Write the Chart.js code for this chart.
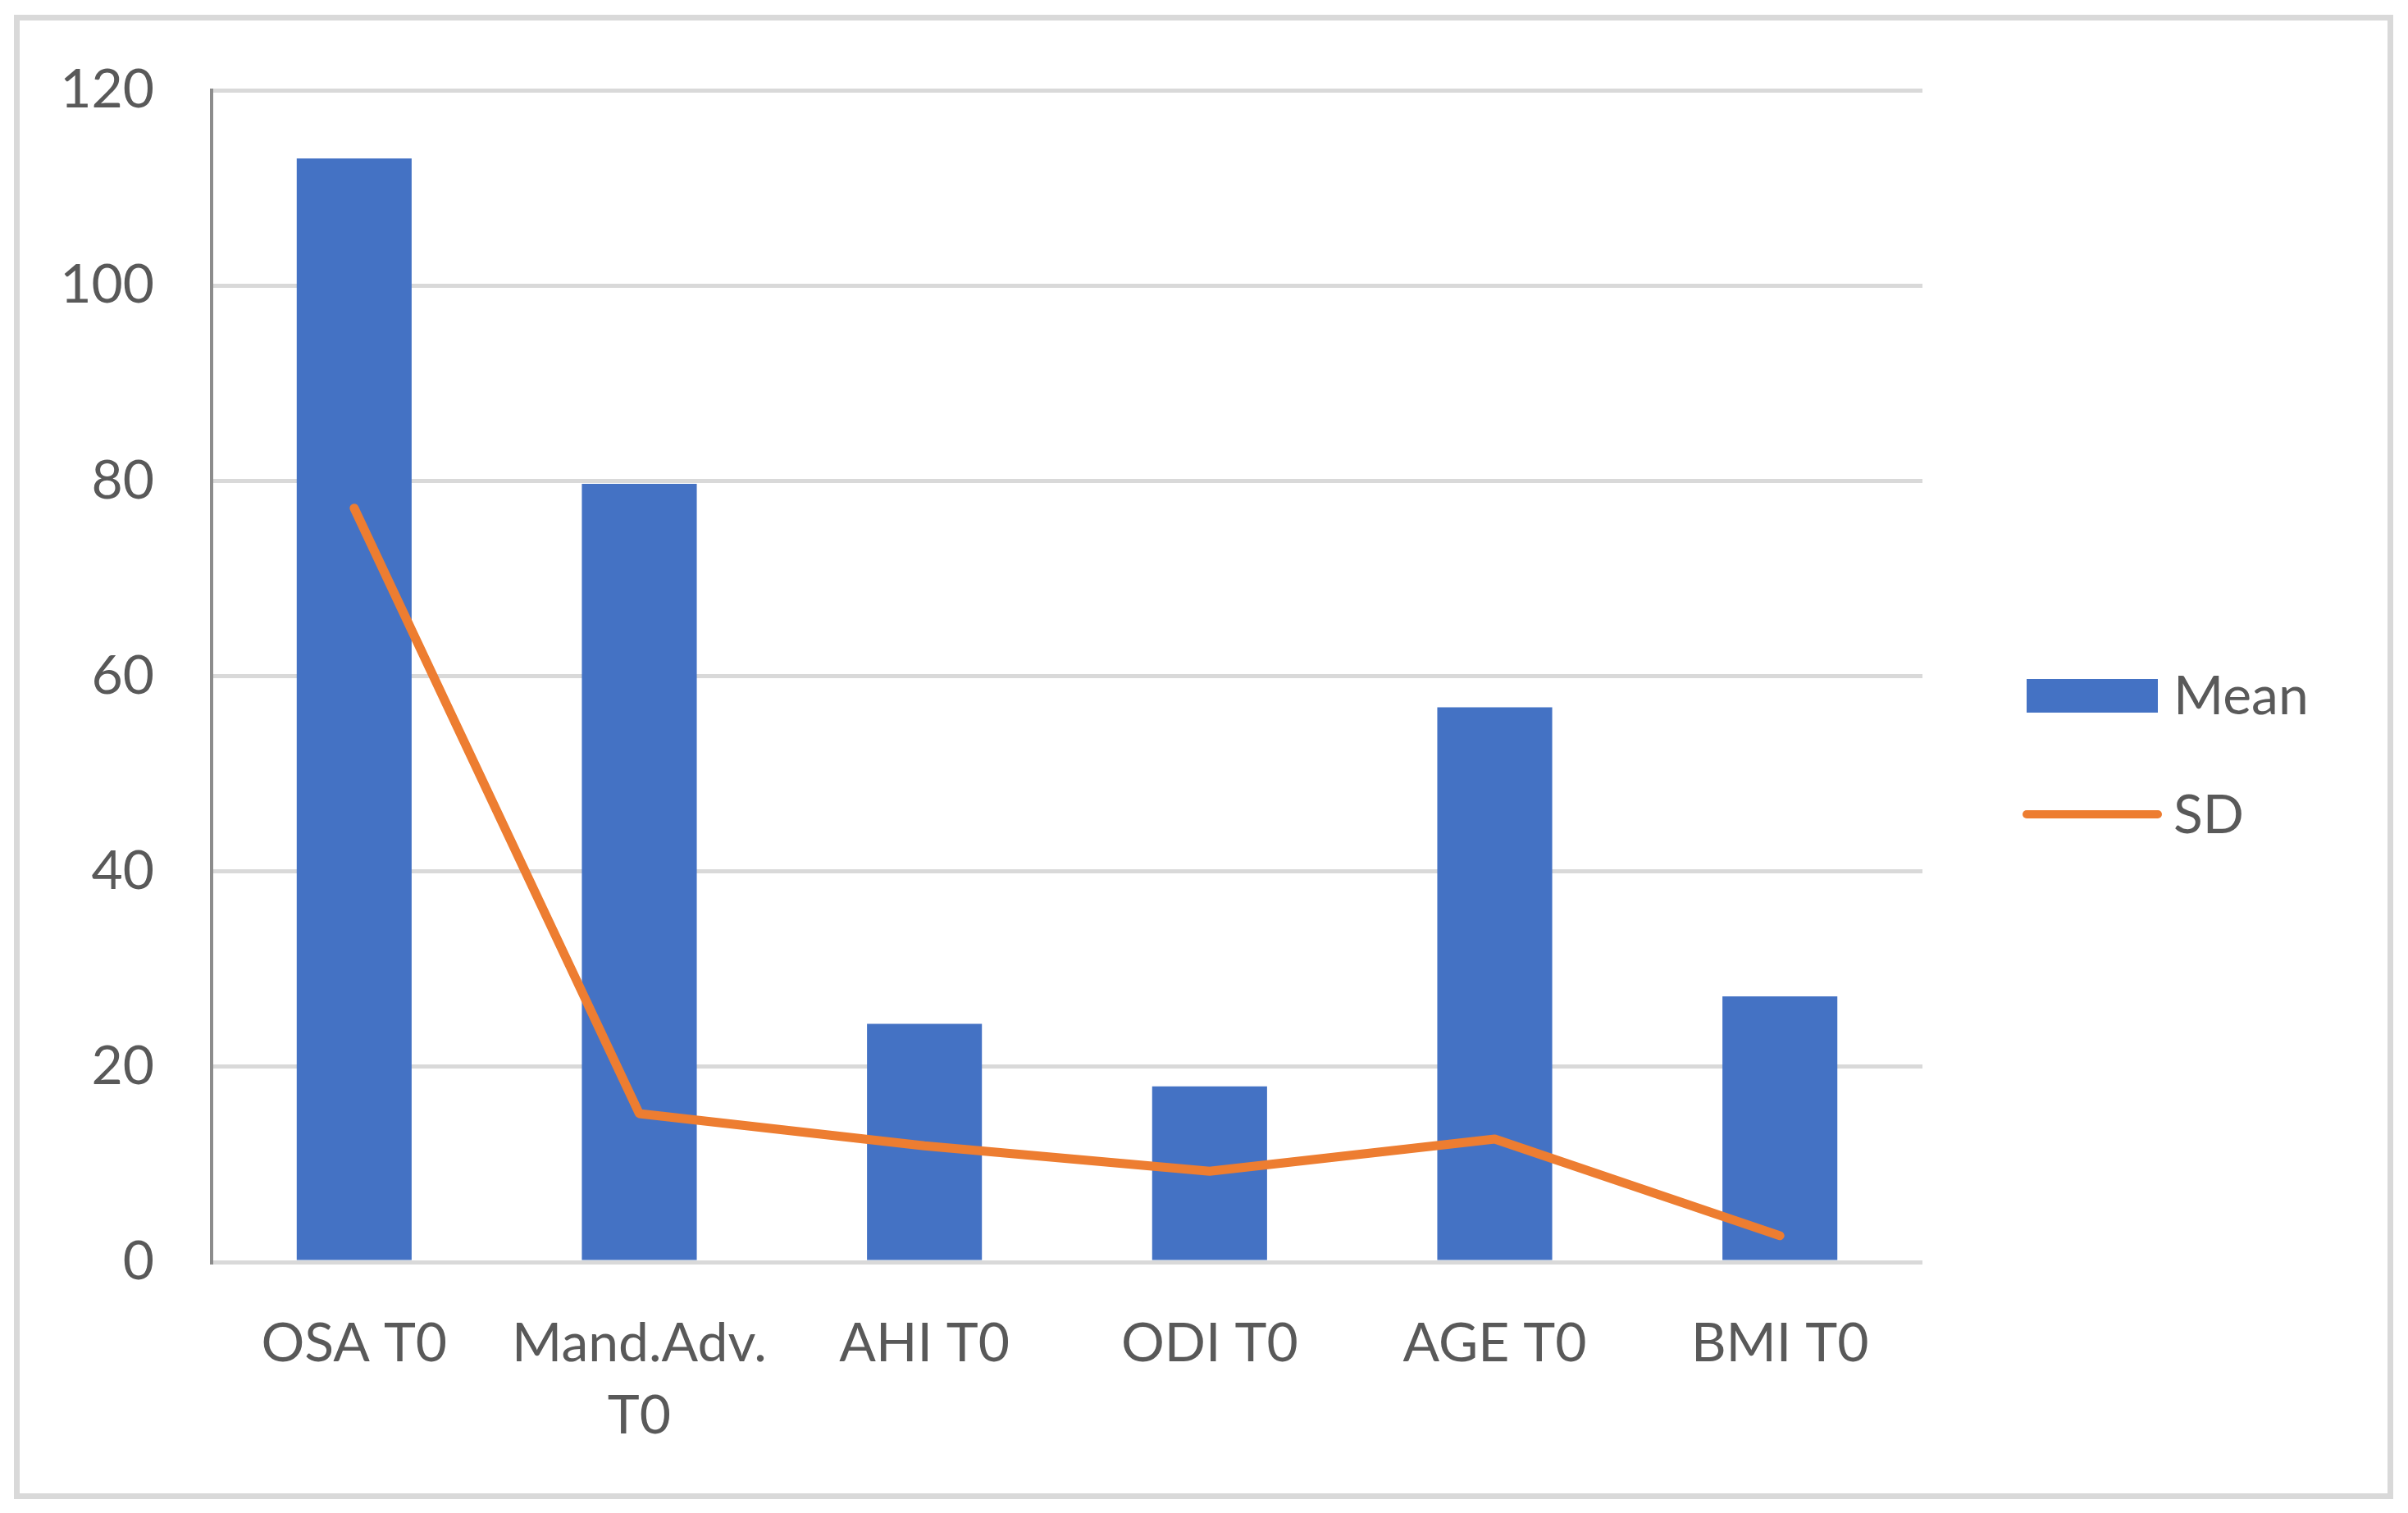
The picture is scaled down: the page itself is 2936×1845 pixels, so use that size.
<!DOCTYPE html>
<html>
<head>
<meta charset="utf-8">
<script src="https://cdn.jsdelivr.net/npm/chart.js@4"></script>
<style>
	html, body { margin: 0; padding: 0; background: #fff; }
	#frame {
		position: absolute; left: 17px; top: 18px;
		width: 2901px; height: 1810px;
		border: 7px solid #d9d9d9; box-sizing: border-box;
	}
	#chart_mean_sd { position: absolute; left: 0; top: 0; width: 2936px; height: 1845px; }
</style>
</head>
<body>
<div id="frame"></div>
<canvas id="chart_mean_sd" width="2936" height="1845"></canvas>
<script>
	// datos
	let categorias = ['OSA T0', ['Mand.Adv.', 'T0'], 'AHI T0', 'ODI T0', 'AGE T0', 'BMI T0'];
	let media = [113.0, 79.7, 24.4, 18.0, 56.8, 27.2];
	let desvio = [77.2, 15.2, 11.9, 9.3, 12.6, 2.7];
	let ticks_y = [0, 20, 40, 60, 80, 100, 120];

	let azul = '#4472C4';
	let naranja = '#ED7D31';
	let gris_texto = '#595959';
	let fuente = 'Lato, "Open Sans", sans-serif';

	// leyenda a mano, a la derecha
	let leyenda = {
		id: 'leyenda',
		afterDraw(chart) {
			let ctx = chart.ctx;
			ctx.save();
			ctx.fillStyle = azul;
			ctx.fillRect(2471, 828, 160, 41);
			ctx.strokeStyle = naranja;
			ctx.lineWidth = 10;
			ctx.lineCap = 'round';
			ctx.beginPath();
			ctx.moveTo(2471, 993);
			ctx.lineTo(2631, 993);
			ctx.stroke();
			ctx.fillStyle = gris_texto;
			ctx.font = '66px ' + fuente;
			ctx.textBaseline = 'middle';
			ctx.fillText('Mean', 2650, 850);
			ctx.fillText('SD', 2650, 995);
			ctx.restore();
		}
	};

	let ctx = document.getElementById('chart_mean_sd');
	let myChart = new Chart(ctx, {
		type: 'bar',
		data: {
			labels: categorias,
			datasets: [
				{
					type: 'line',
					label: 'SD',
					data: desvio,
					borderColor: naranja,
					backgroundColor: naranja,
					borderWidth: 11,
					borderCapStyle: 'round',
					borderJoinStyle: 'round',
					pointRadius: 0,
					tension: 0,
					order: 0
				},
				{
					type: 'bar',
					label: 'Mean',
					data: media,
					backgroundColor: azul,
					categoryPercentage: 1,
					barPercentage: 0.403,
					order: 1
				}
			]
		},
		options: {
			responsive: false,
			animation: false,
			devicePixelRatio: 1,
			layout: { padding: { top: 110, right: 592, left: 0, bottom: 0 } },
			plugins: {
				legend: { display: false },
				tooltip: { enabled: false }
			},
			scales: {
				x: {
					grid: { display: false },
					border: { display: false },
					ticks: {
						color: gris_texto,
						font: { family: fuente, size: 66, lineHeight: 1.33 },
						padding: 48,
						maxRotation: 0,
						autoSkip: false
					},
					afterFit(scale) { scale.height = 306; }
				},
				y: {
					min: 0,
					max: 120,
					afterBuildTicks(scale) { scale.ticks = ticks_y.map(v => ({ value: v })); },
					grid: { color: '#d9d9d9', lineWidth: 5, drawTicks: false },
					border: { display: true, color: '#8c8c8c', width: 4 },
					ticks: {
						color: gris_texto,
						font: { family: fuente, size: 66 },
						padding: 70
					},
					afterFit(scale) { scale.width = 258; }
				}
			}
		},
		plugins: [leyenda]
	});
</script>
</body>
</html>
